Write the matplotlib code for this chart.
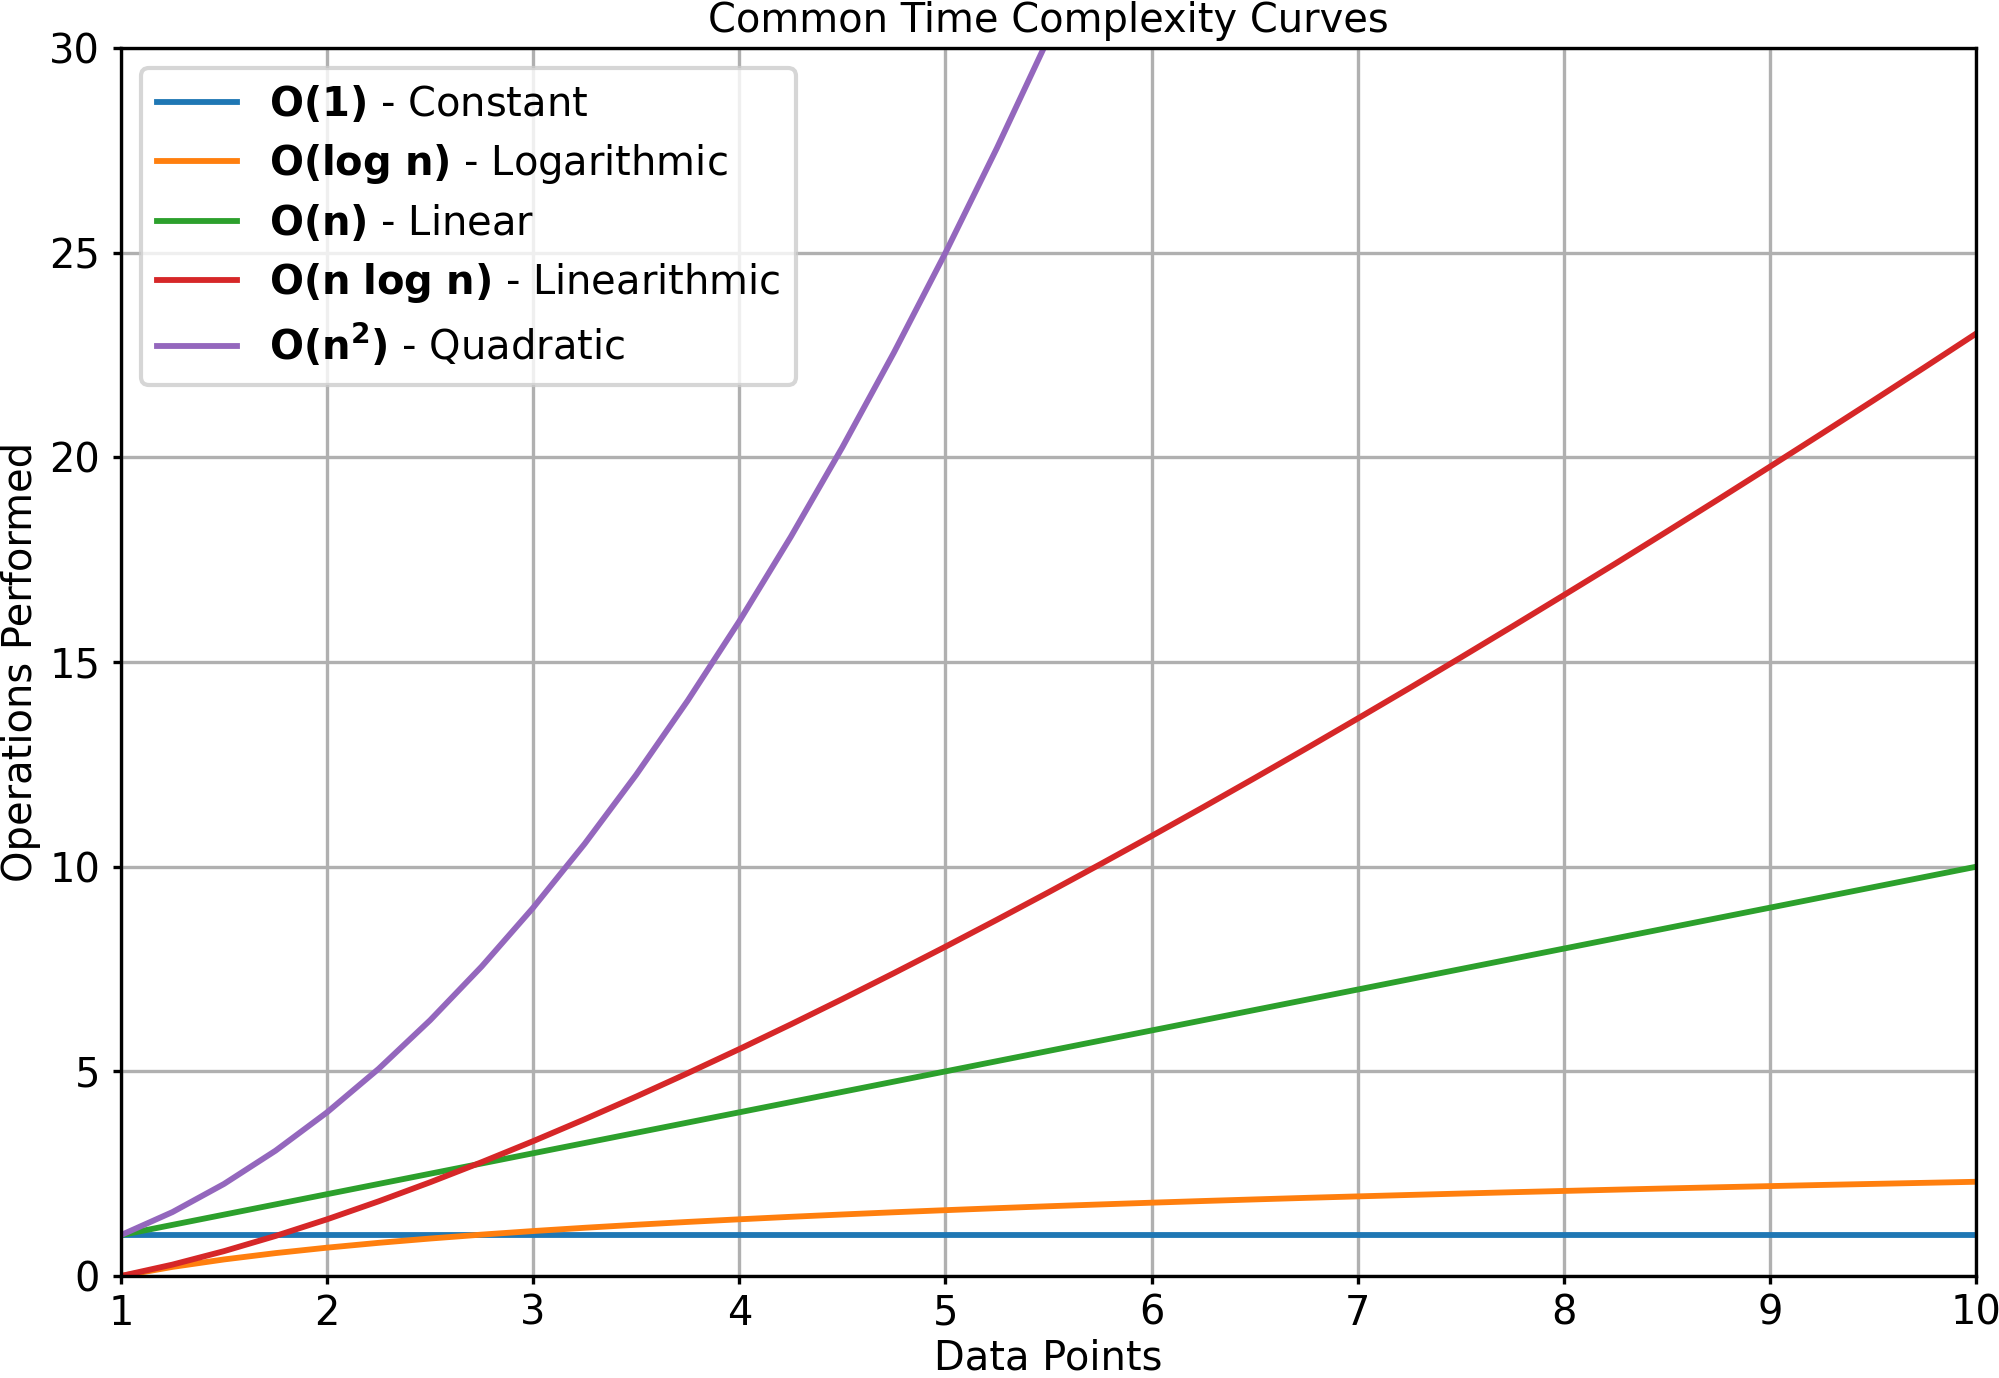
import matplotlib
matplotlib.use('Agg')
import matplotlib.pyplot as plt

plt.rcParams['font.size'] = 9.6
plt.rcParams['xtick.major.size'] = 2
plt.rcParams['ytick.major.size'] = 2
plt.rcParams['xtick.major.pad'] = 2.2
plt.rcParams['ytick.major.pad'] = 3

# values at quarter-step intervals
n_values = [1, 1.25, 1.5, 1.75, 2, 2.25, 2.5, 2.75, 3, 3.25, 3.5, 3.75,
            4, 4.25, 4.5, 4.75, 5, 5.25, 5.5, 5.75, 6, 6.25, 6.5, 6.75,
            7, 7.25, 7.5, 7.75, 8, 8.25, 8.5, 8.75, 9, 9.25, 9.5, 9.75, 10]
constant_ops = [1] * len(n_values)
log_ops = [0, 0.223, 0.405, 0.560, 0.693, 0.811, 0.916, 1.012, 1.099, 1.179,
           1.253, 1.322, 1.386, 1.447, 1.504, 1.558, 1.609, 1.658, 1.705,
           1.749, 1.792, 1.833, 1.872, 1.910, 1.946, 1.981, 2.015, 2.048,
           2.079, 2.110, 2.140, 2.169, 2.197, 2.225, 2.251, 2.277, 2.303]
linear_ops = [1, 1.25, 1.5, 1.75, 2, 2.25, 2.5, 2.75, 3, 3.25, 3.5, 3.75,
              4, 4.25, 4.5, 4.75, 5, 5.25, 5.5, 5.75, 6, 6.25, 6.5, 6.75,
              7, 7.25, 7.5, 7.75, 8, 8.25, 8.5, 8.75, 9, 9.25, 9.5, 9.75, 10]
nlogn_ops = [0, 0.279, 0.608, 0.979, 1.386, 1.825, 2.291, 2.782, 3.296, 3.831,
             4.385, 4.957, 5.545, 6.149, 6.768, 7.401, 8.047, 8.706, 9.376,
             10.058, 10.751, 11.454, 12.167, 12.889, 13.621, 14.361, 15.112,
             15.870, 16.636, 17.407, 18.190, 18.978, 19.775, 20.578, 21.387,
             22.202, 23.026]
quad_ops = [1, 1.5625, 2.25, 3.0625, 4, 5.0625, 6.25, 7.5625, 9, 10.5625,
            12.25, 14.0625, 16, 18.0625, 20.25, 22.5625, 25, 27.5625, 30.25,
            33.06, 36, 39.06, 42.25, 45.56, 49, 52.56, 56.25, 60.06, 64,
            68.06, 72.25, 76.56, 81, 85.56, 90.25, 95.06, 100]

labels = [
    r'$\mathbf{O(1)}$ - Constant',
    r'$\mathbf{O(log\ n)}$ - Logarithmic',
    r'$\mathbf{O(n)}$ - Linear',
    r'$\mathbf{O(n\ log\ n)}$ - Linearithmic',
    r'$\mathbf{O(n^2)}$ - Quadratic',
]
series = [constant_ops, log_ops, linear_ops, nlogn_ops, quad_ops]

fig = plt.figure(figsize=(1999 / 300, 1378 / 300), dpi=300)
ax = fig.add_axes([0.0605, 0.074, 0.928, 0.891])

for ops, label in zip(series, labels):
    ax.plot(n_values, ops, label=label, linewidth=1.4)

ax.set_xlim(1, 10)
ax.set_ylim(0, 30)
ax.set_title('Common Time Complexity Curves', fontsize=9.6, pad=4)
ax.set_xlabel('Data Points', labelpad=1.2)
ax.set_ylabel('Operations Performed', labelpad=2)
ax.grid(True)
ax.legend(loc='upper left', labelspacing=0.42)

fig.savefig('out.png', dpi=300)
